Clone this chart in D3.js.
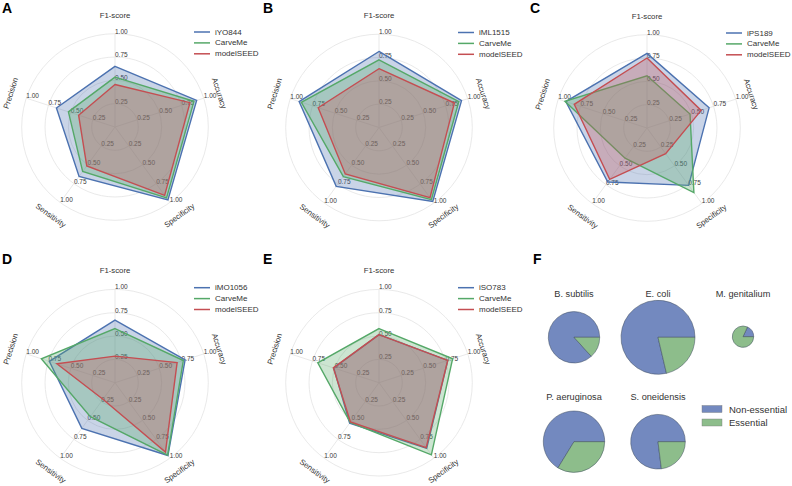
<!DOCTYPE html>
<html>
<head>
<meta charset="utf-8">
<script src="https://cdn.jsdelivr.net/npm/d3@7"></script>
<style>
  html, body { margin: 0; padding: 0; background: #fff; }
  svg { display: block; font-family: "Liberation Sans", Arial, Helvetica, sans-serif; }
</style>
</head>
<body>
<svg id="chart" width="792" height="486"></svg>
<script>
// ---------------- DATA ----------------
const metrics = ["F1-score", "Accuracy", "Specificity", "Sensitivity", "Precision"];
const radialTicks = [0.25, 0.5, 0.75, 1.0];
const radialTickLabels = ["0.25", "0.50", "0.75", "1.00"];
const panelLetters = ["A", "B", "C", "D", "E"];
const referenceModels = ["iYO844", "iML1515", "iPS189", "iMO1056", "iSO783"];
const toolNames = ["CarveMe", "modelSEED"];

// scores per panel, in metric order
const referenceScores = [
  [0.65, 0.92, 0.965, 0.655, 0.66],
  [0.815, 0.93, 0.98, 0.78, 0.90],
  [0.80, 0.70, 0.76, 0.715, 0.915],
  [0.67, 0.79, 0.965, 0.605, 0.74],
  [0.515, 0.775, 0.87, 0.535, 0.51]
];
const carvemeScores = [
  [0.535, 0.89, 0.94, 0.59, 0.525],
  [0.725, 0.90, 0.955, 0.65, 0.875],
  [0.56, 0.485, 0.855, 0.40, 0.925],
  [0.58, 0.77, 0.96, 0.45, 0.83],
  [0.58, 0.83, 0.955, 0.525, 0.69]
];
const modelseedScores = [
  [0.455, 0.845, 0.905, 0.515, 0.41],
  [0.63, 0.85, 0.93, 0.615, 0.685],
  [0.75, 0.61, 0.34, 0.68, 0.82],
  [0.285, 0.70, 0.92, 0.22, 0.655],
  [0.515, 0.775, 0.86, 0.52, 0.515]
];

// panel F
const species = ["B. subtilis", "E. coli", "M. genitalium", "P. aeruginosa", "S. oneidensis"];
const totalGenes = [731, 1515, 127, 1043, 825];
const essentialGenes = [97, 323, 104, 352, 190];
const essentialityClasses = ["Non-essential", "Essential"];

// ---------------- STYLE / LAYOUT ----------------
const seriesColors = ["#4C72B0", "#55A868", "#C44E52"];
const pieColors = ["#7389bf", "#8dbd8b"];
const radarCenters = [[115, 127], [379, 127.5], [647, 128], [115, 382.7], [379, 382.7]];
const letterPos = [[2, 13], [263, 13], [530, 13], [2, 264], [263, 264]];
const R = 93.3;

const svg = d3.select("#chart");
const rScale = d3.scaleLinear().domain([0, 1]).range([0, R]);
const angleScale = d3.scaleLinear().domain([0, metrics.length]).range([0, 2 * Math.PI]);

function pt(i, v) {
  const a = angleScale(i); // clockwise from 12 o'clock
  return [rScale(v) * Math.sin(a), -rScale(v) * Math.cos(a)];
}

const radarLine = d3.lineRadial()
  .angle((d, i) => angleScale(i))
  .radius(d => rScale(d))
  .curve(d3.curveLinearClosed);

referenceModels.forEach((modelName, p) => {
  const [cx, cy] = radarCenters[p];
  const g = svg.append("g").attr("transform", `translate(${cx},${cy})`);

  // grid circles
  g.selectAll("circle.grid").data(radialTicks).join("circle")
    .attr("r", d => rScale(d))
    .attr("fill", "none").attr("stroke", "#e3e3e3").attr("stroke-width", 0.8);
  // spokes
  g.selectAll("line.spoke").data(metrics).join("line")
    .attr("x1", 0).attr("y1", 0)
    .attr("x2", (d, i) => pt(i, 1)[0]).attr("y2", (d, i) => pt(i, 1)[1])
    .attr("stroke", "#e3e3e3").attr("stroke-width", 0.8);

  // tick labels on each spoke
  metrics.forEach((m, i) => {
    radialTicks.forEach((t, k) => {
      const [x, y] = pt(i, t);
      g.append("text").attr("x", x).attr("y", y)
        .attr("font-size", 6.5).attr("fill", "#3a3a3a")
        .attr("text-anchor", "start")
        .text(radialTickLabels[k]);
    });
  });

  // polygons
  const series = [referenceScores[p], carvemeScores[p], modelseedScores[p]];
  series.forEach((vals, s) => {
    g.append("path").attr("d", radarLine(vals))
      .attr("fill", seriesColors[s]).attr("fill-opacity", 0.3)
      .attr("stroke", seriesColors[s]).attr("stroke-width", 1.4)
      .attr("stroke-linejoin", "miter");
  });

  // category labels
  metrics.forEach((m, i) => {
    const a = angleScale(i);
    const d = i === 0 ? 112 : 109.5;
    const x = d * Math.sin(a), y = -d * Math.cos(a);
    let rot = a * 180 / Math.PI; // tangent rotation
    if (rot > 90 && rot <= 270) rot -= 180;
    if (rot > 270) rot -= 360;
    g.append("text")
      .attr("transform", `translate(${x},${y}) rotate(${rot})`)
      .attr("text-anchor", "middle").attr("dominant-baseline", "central")
      .attr("font-size", 7.8).attr("fill", "#333")
      .text(m);
  });

  // legend
  const names = [modelName].concat(toolNames);
  const lg = g.append("g").attr("transform", "translate(79,-95)");
  names.forEach((n, s) => {
    lg.append("line").attr("x1", 0).attr("x2", 16)
      .attr("y1", s * 10.9).attr("y2", s * 10.9)
      .attr("stroke", seriesColors[s]).attr("stroke-width", 1.5);
    lg.append("text").attr("x", 21).attr("y", s * 10.9)
      .attr("dominant-baseline", "central")
      .attr("font-size", 8).attr("fill", "#333").text(n);
  });

  svg.append("text").attr("x", letterPos[p][0]).attr("y", letterPos[p][1])
    .attr("font-size", 14).attr("font-weight", "bold").attr("fill", "#000")
    .text(panelLetters[p]);
});

// ---------------- PANEL F ----------------
svg.append("text").attr("x", 533).attr("y", 264)
  .attr("font-size", 14).attr("font-weight", "bold").attr("fill", "#000").text("F");

const pieCenters = [[574, 337.3], [658, 337.3], [743, 336.7], [574, 441.7], [658, 441.7]];
const titleY = [296.5, 296.5, 296.5, 400, 400];
const sizeScale = d3.scaleSqrt().domain([0, d3.max(totalGenes)]).range([0, 37]);
const pie = d3.pie().sort(null)
  .startAngle(Math.PI / 2).endAngle(Math.PI / 2 - 2 * Math.PI);

species.forEach((sp, i) => {
  const [cx, cy] = pieCenters[i];
  const r = sizeScale(totalGenes[i]);
  const arcs = pie([totalGenes[i] - essentialGenes[i], essentialGenes[i]]);
  const arc = d3.arc().innerRadius(0).outerRadius(r);
  const g = svg.append("g").attr("transform", `translate(${cx},${cy})`);
  g.selectAll("path").data(arcs).join("path")
    .attr("d", arc)
    .attr("fill", (d, k) => pieColors[k])
    .attr("stroke", "#3d4a5c").attr("stroke-width", 0.5).attr("stroke-linejoin", "round");
  svg.append("text").attr("x", cx).attr("y", titleY[i])
    .attr("text-anchor", "middle").attr("font-size", 9.2).attr("fill", "#333")
    .text(sp);
});

// legend F
essentialityClasses.forEach((c, k) => {
  const y = 405.5 + k * 13.5;
  svg.append("rect").attr("x", 702).attr("y", y).attr("width", 20).attr("height", 7)
    .attr("fill", pieColors[k]).attr("stroke", "#777").attr("stroke-width", 0.4);
  svg.append("text").attr("x", 729).attr("y", y + 3.6)
    .attr("dominant-baseline", "central")
    .attr("font-size", 9.5).attr("fill", "#333").text(c);
});
</script>
</body>
</html>
